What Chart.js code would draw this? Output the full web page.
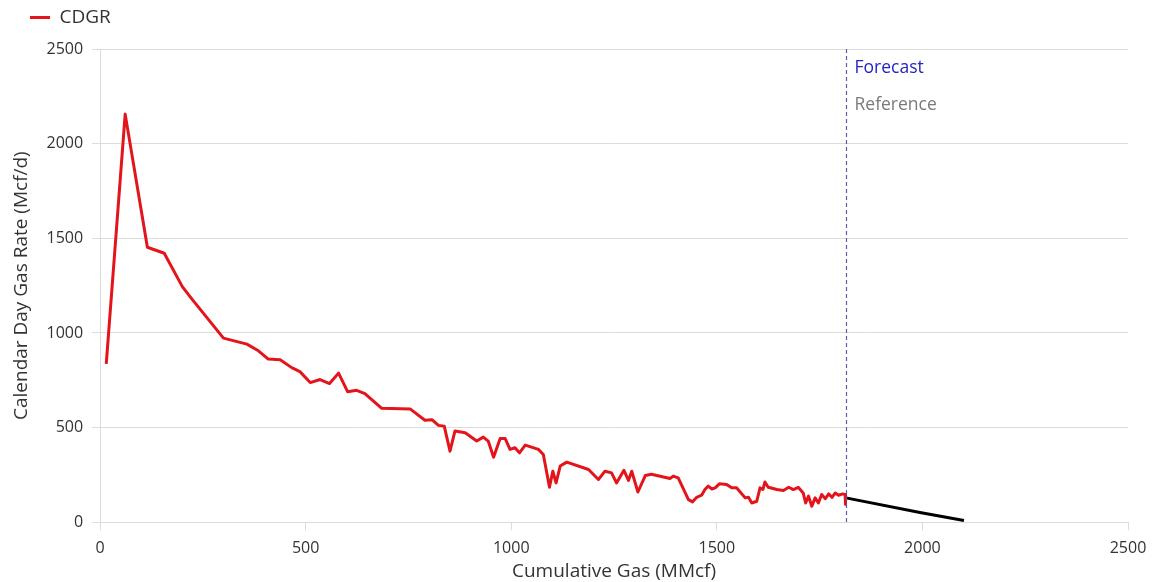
<!DOCTYPE html>
<html>
<head>
<meta charset="utf-8">
<script src="https://cdn.jsdelivr.net/npm/chart.js@4.4.1/dist/chart.umd.min.js"></script>
<style>
  html, body { margin: 0; padding: 0; background: #fff; }
  #wrap { width: 1169px; height: 582px; position: relative; }
</style>
</head>
<body>
<div id="wrap"><canvas id="chart"></canvas></div>
<script>
// cumulative gas (MMcf) vs calendar day gas rate (Mcf/d)
const cumGas = [15, 61, 115, 156, 200, 223, 300, 357, 385, 409, 438, 466, 486, 511, 535, 558, 580, 602, 624, 644,
  685, 754, 790, 807, 823, 837, 851, 863, 888, 916, 932, 944, 957, 973, 985, 997, 1009, 1020, 1034, 1066,
  1078, 1093, 1101, 1109, 1119, 1135, 1188, 1212, 1228, 1244, 1256, 1274, 1285, 1293, 1308, 1326, 1341, 1386, 1394, 1406,
  1431, 1441, 1451, 1463, 1471, 1479, 1488, 1496, 1506, 1524, 1536, 1548, 1569, 1577, 1585, 1597, 1605, 1612, 1617, 1625,
  1646, 1662, 1675, 1686, 1698, 1710, 1716, 1723, 1731, 1739, 1747, 1755, 1764, 1772, 1780, 1788, 1796, 1806, 1812, 1813];
const cdgr = [837, 2156, 1453, 1421, 1245, 1180, 973, 941, 906, 862, 858, 817, 796, 738, 754, 733, 788, 690, 697, 680,
  602, 599, 539, 542, 512, 508, 376, 482, 473, 429, 450, 429, 344, 443, 443, 385, 394, 367, 408, 385,
  358, 185, 270, 208, 297, 318, 279, 226, 270, 261, 208, 275, 221, 270, 160, 247, 254, 231, 244, 235,
  120, 108, 132, 143, 173, 191, 176, 182, 203, 200, 182, 182, 129, 132, 102, 111, 182, 173, 213, 185,
  173, 168, 185, 173, 185, 155, 102, 138, 85, 129, 102, 147, 125, 150, 132, 155, 143, 150, 147, 94];

const forecastX = [1814, 1994, 2101];
const forecastY = [129, 52, 9];

const forecastStart = 1814;
const xTicks = [0, 500, 1000, 1500, 2000, 2500];

const FONT = "'Open Sans', 'Noto Sans', sans-serif";
const TEXT = '#333';
const GRID = '#dcdcdc';

// dashed vertical marker with Forecast / Reference labels
const forecastMarker = {
  id: 'forecastMarker',
  afterDatasetsDraw(chart) {
    const { ctx, chartArea, scales } = chart;
    const x = Math.round(scales.x.getPixelForValue(forecastStart)) + 0.5;
    ctx.save();
    ctx.strokeStyle = '#5b5ba8';
    ctx.lineWidth = 1.2;
    ctx.setLineDash([4, 3]);
    ctx.beginPath();
    ctx.moveTo(x, chartArea.top);
    ctx.lineTo(x, chartArea.bottom);
    ctx.stroke();
    ctx.setLineDash([]);
    ctx.font = '17.5px ' + FONT;
    ctx.textBaseline = 'middle';
    ctx.fillStyle = '#2323c8';
    ctx.fillText('Forecast', x + 8, chartArea.top + 19);
    ctx.fillStyle = '#7a7a7a';
    ctx.fillText('Reference', x + 8, chartArea.top + 56);
    ctx.restore();
  }
};

// a bit more room under the legend, and nudge it right
const legendSpacing = {
  id: 'legendSpacing',
  beforeInit(chart) {
    const fit = chart.legend.fit;
    chart.legend.fit = function () {
      fit.call(this);
      this.height += 12;
    };
  },
  afterLayout(chart) {
    chart.legend.left += 12;
  }
};

new Chart(document.getElementById('chart'), {
  type: 'scatter',
  data: {
    datasets: [{
      label: 'CDGR',
      data: cumGas.map((x, i) => ({ x: x, y: cdgr[i] })),
      showLine: true,
      borderColor: '#e4141b',
      backgroundColor: '#e4141b',
      borderWidth: 3,
      borderJoinStyle: 'round',
      pointRadius: 0,
      tension: 0
    }, {
      label: 'Forecast',
      data: forecastX.map((x, i) => ({ x: x, y: forecastY[i] })),
      showLine: true,
      borderColor: '#000',
      borderWidth: 3,
      pointRadius: 0
    }]
  },
  options: {
    responsive: true,
    maintainAspectRatio: false,
    animation: false,
    layout: { padding: { left: 10, right: 41, top: 0, bottom: 0 } },
    plugins: {
      tooltip: { enabled: false },
      legend: {
        position: 'top',
        align: 'start',
        labels: {
          filter: item => item.text === 'CDGR',
          generateLabels: chart => Chart.defaults.plugins.legend.labels.generateLabels(chart)
            .map(item => Object.assign(item, { lineWidth: 0 })),
          boxWidth: 20,
          boxHeight: 3,
          color: TEXT,
          font: { family: FONT, size: 19 },
          padding: 8
        }
      }
    },
    scales: {
      x: {
        type: 'linear',
        min: 0,
        max: 2500,
        afterBuildTicks: axis => { axis.ticks = xTicks.map(v => ({ value: v })); },
        grid: { drawOnChartArea: false, drawTicks: true, tickLength: 8, color: GRID },
        border: { color: GRID },
        ticks: { color: TEXT, font: { family: FONT, size: 16 }, padding: 9, maxRotation: 0, callback: v => String(v) },
        title: { display: true, text: 'Cumulative Gas (MMcf)', color: TEXT, font: { family: FONT, size: 19, lineHeight: 1 }, padding: { top: -5, bottom: 0.5 } }
      },
      y: {
        min: 0,
        max: 2500,
        ticks: { stepSize: 500, color: TEXT, font: { family: FONT, size: 16 }, padding: 9, callback: v => String(v) },
        grid: { color: GRID, tickLength: 8 },
        border: { color: GRID },
        title: { display: true, text: 'Calendar Day Gas Rate (Mcf/d)', color: TEXT, font: { family: FONT, size: 19, lineHeight: 1 }, padding: { top: 2.5, bottom: 6 } }
      }
    }
  },
  plugins: [forecastMarker, legendSpacing]
});
</script>
</body>
</html>
